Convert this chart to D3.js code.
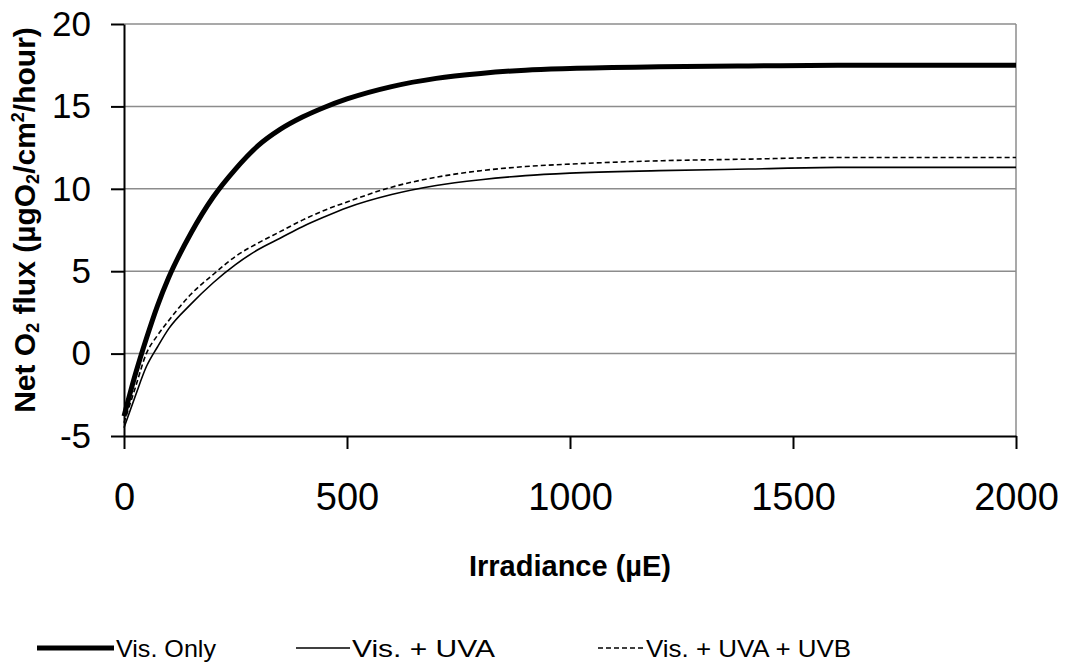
<!DOCTYPE html>
<html>
<head>
<meta charset="utf-8">
<script src="https://cdn.jsdelivr.net/npm/d3@7"></script>
<style>
  body { margin: 0; background: #fff; }
  svg { font-family: Arial, "Liberation Sans", sans-serif; }
</style>
</head>
<body>
<div class="chart"></div>
<script>
// irradiance values (µE) where the curves were read
const irradiance = [0, 25, 50, 75, 100, 150, 200, 250, 300, 350, 400, 450, 500, 600, 700, 800, 900, 1000, 1200, 1400, 1600, 1800, 2000];
const visOnly    = [-3.8, -1.3, 0.9, 2.9, 4.6, 7.3, 9.5, 11.2, 12.6, 13.6, 14.35, 14.95, 15.45, 16.2, 16.7, 17.0, 17.2, 17.3, 17.4, 17.45, 17.5, 17.5, 17.5];
const visUVA     = [-4.5, -2.6, -0.8, 0.4, 1.5, 3.0, 4.3, 5.4, 6.3, 7.0, 7.7, 8.3, 8.85, 9.65, 10.2, 10.55, 10.8, 10.95, 11.1, 11.2, 11.3, 11.3, 11.3];
const visUVAUVB  = [-4.2, -2.1, 0.0, 1.1, 2.0, 3.6, 4.8, 5.9, 6.7, 7.4, 8.1, 8.7, 9.2, 10.1, 10.7, 11.1, 11.35, 11.5, 11.7, 11.8, 11.9, 11.9, 11.9];

const seriesNames = ["Vis. Only", "Vis. + UVA", "Vis. + UVA + UVB"];
const xTicks = [0, 500, 1000, 1500, 2000];
const yTicks = [-5, 0, 5, 10, 15, 20];

const margin = ({ top: 24, right: 52, bottom: 230, left: 124 })
const width = 1068 - margin.left - margin.right,
    height = 666 - margin.top - margin.bottom;

const svg = d3.select(".chart").append("svg")
    .attr("width", 1068)
    .attr("height", 666);

const g = svg.append("g")
    .attr("transform", `translate(${margin.left},${margin.top})`);

const xScale = d3.scaleLinear().domain([0, 2000]).range([0, width]);
const yScale = d3.scaleLinear().domain([-5, 20]).range([height, 0]);

// gridlines
g.append("g")
    .selectAll("line")
    .data(yTicks.filter(d => d > -5))
    .enter()
    .append("line")
    .attr("x1", 0)
    .attr("x2", width)
    .attr("y1", d => yScale(d))
    .attr("y2", d => yScale(d))
    .attr("stroke", "#8c8c8c")
    .attr("stroke-width", 1.5);

// right border of the plot area
g.append("line")
    .attr("x1", width).attr("x2", width)
    .attr("y1", 0).attr("y2", height)
    .attr("stroke", "#8c8c8c")
    .attr("stroke-width", 1.5);

// axes
const xAxis = d3.axisBottom(xScale).tickValues(xTicks).tickFormat(d => String(d))
    .tickSize(13).tickPadding(34).tickSizeOuter(0);
const yAxis = d3.axisLeft(yScale).tickValues(yTicks).tickFormat(d => String(d))
    .tickSize(13).tickPadding(20).tickSizeOuter(0);

const gx = g.append("g")
    .attr("transform", `translate(0,${height})`)
    .call(xAxis);
gx.select(".domain").attr("stroke", "#000").attr("stroke-width", 2);
gx.selectAll(".tick line").attr("stroke", "#000").attr("stroke-width", 2);
gx.selectAll(".tick text")
    .attr("font-size", 38)
    .attr("fill", "#000")
    .attr("font-family", "Arial, 'Liberation Sans', sans-serif");

const gy = g.append("g").call(yAxis);
gy.select(".domain").attr("stroke", "#000").attr("stroke-width", 2);
gy.selectAll(".tick line").attr("stroke", "#000").attr("stroke-width", 2);
gy.selectAll(".tick text")
    .attr("font-size", 35)
    .attr("fill", "#000")
    .attr("font-family", "Arial, 'Liberation Sans', sans-serif");

// lines
const series = [
    { name: seriesNames[0], values: visOnly, width: 5, dash: null },
    { name: seriesNames[1], values: visUVA, width: 1.6, dash: null },
    { name: seriesNames[2], values: visUVAUVB, width: 1.6, dash: "5,3" }
];

const line = d3.line()
    .x(d => xScale(d[0]))
    .y(d => yScale(d[1]))
    .curve(d3.curveMonotoneX);

g.selectAll(".series")
    .data(series)
    .enter()
    .append("path")
    .attr("class", "series")
    .attr("fill", "none")
    .attr("stroke", "#000")
    .attr("stroke-width", d => d.width)
    .attr("stroke-dasharray", d => d.dash)
    .attr("d", d => line(irradiance.map((x, i) => [x, d.values[i]])));

// axis titles
svg.append("text")
    .attr("x", margin.left + width / 2)
    .attr("y", 576)
    .attr("text-anchor", "middle")
    .attr("font-size", 29)
    .attr("font-weight", "bold")
    .text("Irradiance (µE)");

const yTitle = svg.append("text")
    .attr("transform", "translate(35,220) rotate(-90)")
    .attr("text-anchor", "middle")
    .attr("font-size", 30)
    .attr("font-weight", "bold");
yTitle.append("tspan").text("Net O");
yTitle.append("tspan").attr("font-size", 18).attr("dy", 4).text("2");
yTitle.append("tspan").attr("dy", -4).text(" flux (µgO");
yTitle.append("tspan").attr("font-size", 18).attr("dy", 4).text("2");
yTitle.append("tspan").attr("dy", -4).text("/cm");
yTitle.append("tspan").attr("font-size", 18).attr("dy", -11).text("2");
yTitle.append("tspan").attr("dy", 11).text("/hour)");

// legend
const legendX = [37, 296, 598];
const legendText = [100, 143, 205];
const legend = svg.append("g").attr("class", "legend");
legend.selectAll("line")
    .data(series)
    .enter()
    .append("line")
    .attr("x1", (d, i) => legendX[i])
    .attr("x2", (d, i) => legendX[i] + (i === 2 ? 46 : (i === 0 ? 77 : 54)))
    .attr("y1", 648)
    .attr("y2", 648)
    .attr("stroke", "#000")
    .attr("stroke-width", d => d.width)
    .attr("stroke-dasharray", d => d.dash);
legend.selectAll("text")
    .data(series)
    .enter()
    .append("text")
    .attr("x", (d, i) => legendX[i] + (i === 2 ? 48 : (i === 0 ? 79 : 56)))
    .attr("y", 657)
    .attr("font-size", 24)
    .attr("textLength", (d, i) => legendText[i])
    .attr("lengthAdjust", "spacingAndGlyphs")
    .text(d => d.name);
</script>
</body>
</html>
